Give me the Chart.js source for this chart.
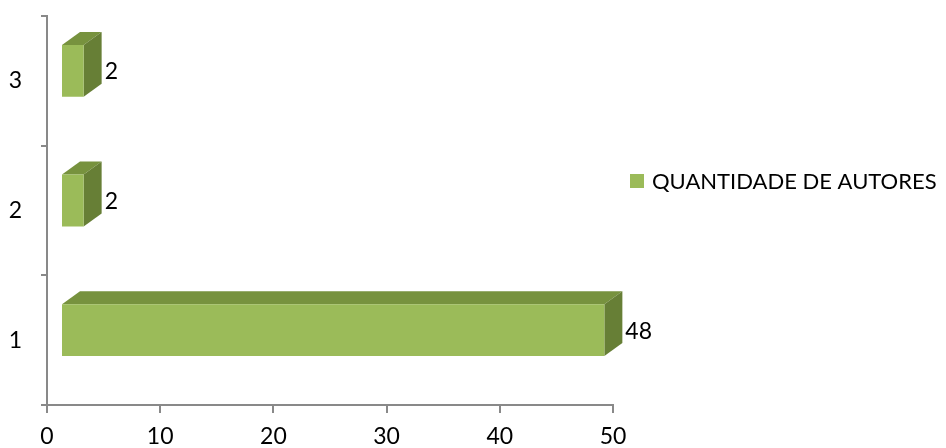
<!DOCTYPE html>
<html>
<head>
<meta charset="utf-8">
<script src="https://cdn.jsdelivr.net/npm/chart.js@4.4.1/dist/chart.umd.min.js"></script>
<style>
  body { margin: 0; background: #fff; }
  #wrap { width: 946px; height: 448px; }
</style>
</head>
<body>
<div id="wrap"><canvas id="grafico"></canvas></div>
<script>
const categorias = ['1', '2', '3'];
const autores = [48, 2, 2];
const serieNome = 'QUANTIDADE DE AUTORES';
const xTicks = [0, 10, 20, 30, 40, 50];

const corFrente = '#9BBB59';
const corTopo = '#77923E';
const corLado = '#677F36';
const corEixo = '#898989';
const fonte = 'Lato, "Open Sans", sans-serif';
const tamFonte = 23;

// deslocamento da caixa 3D e profundidade
const desloc = {x: 14, y: -10};
const prof = {x: 18, y: 13};

const barras3d = {
    id: 'barras3d',
    beforeDatasetsDraw(chart) {
        const ctx = chart.ctx;
        const meta = chart.getDatasetMeta(0);
        ctx.save();
        ctx.translate(desloc.x, desloc.y);
        meta.data.forEach((bar) => {
            const p = bar.getProps(['x', 'y', 'base', 'height'], true);
            const top = p.y - p.height / 2;
            const bottom = p.y + p.height / 2;
            // face de cima
            ctx.fillStyle = corTopo;
            ctx.beginPath();
            ctx.moveTo(p.base, top);
            ctx.lineTo(p.base + prof.x, top - prof.y);
            ctx.lineTo(p.x + prof.x, top - prof.y);
            ctx.lineTo(p.x, top);
            ctx.closePath();
            ctx.fill();
            // face lateral
            ctx.fillStyle = corLado;
            ctx.beginPath();
            ctx.moveTo(p.x, top);
            ctx.lineTo(p.x + prof.x, top - prof.y);
            ctx.lineTo(p.x + prof.x, bottom - prof.y);
            ctx.lineTo(p.x, bottom);
            ctx.closePath();
            ctx.fill();
        });
    },
    afterDatasetsDraw(chart) {
        const ctx = chart.ctx;
        const meta = chart.getDatasetMeta(0);
        const valores = chart.data.datasets[0].data;
        ctx.fillStyle = '#000';
        ctx.font = tamFonte + 'px ' + fonte;
        ctx.textAlign = 'left';
        ctx.textBaseline = 'middle';
        meta.data.forEach((bar, i) => {
            ctx.fillText(String(valores[i]), bar.x + prof.x + 3, bar.y + 1);
        });
        ctx.restore();

        // legenda
        const ds = chart.data.datasets[0];
        const lx = chart.chartArea.right + 17;
        const ly = chart.chartArea.top + 165;
        ctx.fillStyle = ds.backgroundColor;
        ctx.fillRect(lx, ly - 7, 14, 14);
        ctx.fillStyle = '#000';
        ctx.font = '22px ' + fonte;
        ctx.textAlign = 'left';
        ctx.textBaseline = 'middle';
        ctx.fillText(ds.label, lx + 22, ly + 1);
    }
};

new Chart(document.getElementById('grafico'), {
    type: 'bar',
    data: {
        labels: categorias,
        datasets: [{
            label: serieNome,
            data: autores,
            backgroundColor: corFrente,
            borderWidth: 0,
            categoryPercentage: 0.8,
            barPercentage: 0.5
        }]
    },
    options: {
        indexAxis: 'y',
        responsive: true,
        maintainAspectRatio: false,
        animation: false,
        layout: {padding: {left: 0, right: 333, top: 0, bottom: 0}},
        plugins: {
            legend: {display: false},
            tooltip: {enabled: false}
        },
        scales: {
            x: {
                min: xTicks[0],
                max: xTicks[xTicks.length - 1],
                afterBuildTicks: (axis) => { axis.ticks = xTicks.map(v => ({value: v})); },
                afterFit: (axis) => { axis.height = 43; },
                grid: {drawOnChartArea: false, drawTicks: true, tickLength: 8, color: corEixo, lineWidth: 2},
                border: {color: corEixo, width: 2},
                ticks: {color: '#000', font: {family: fonte, size: tamFonte}, padding: 10}
            },
            y: {
                reverse: true,
                afterFit: (axis) => { axis.width = 47; axis.paddingTop = 16; },
                grid: {drawOnChartArea: false, drawTicks: true, tickLength: 6, color: corEixo, lineWidth: 2},
                border: {color: corEixo, width: 2},
                ticks: {color: '#000', font: {family: fonte, size: tamFonte}, padding: 19}
            }
        }
    },
    plugins: [barras3d]
});
</script>
</body>
</html>
